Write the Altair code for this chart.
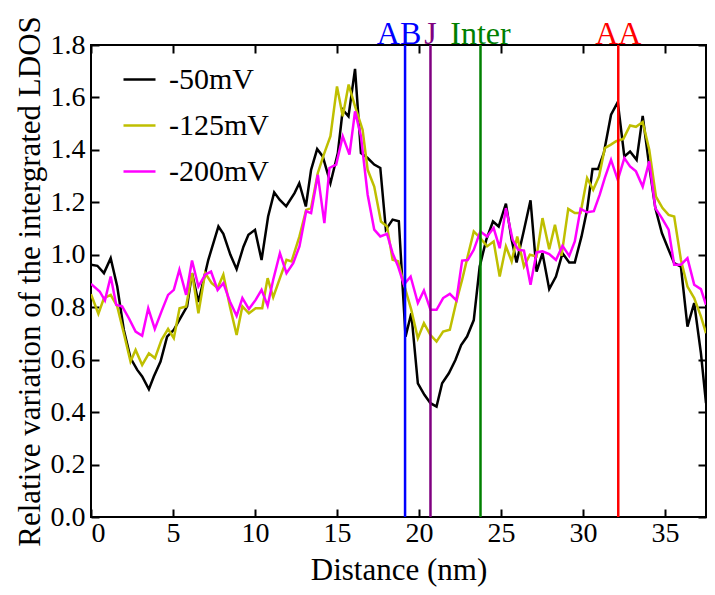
import altair as alt
import pandas as pd

# ---- data ----
x_50 = [0.0, 0.39, 0.79, 1.2, 1.6, 2.0, 2.41, 2.82, 3.12, 3.53, 3.83, 4.24, 4.64, 5.05, 5.45, 5.86,
        6.16, 6.55, 7.15, 7.77, 8.07, 8.5, 8.88, 9.29, 9.6, 10.0, 10.4, 10.8, 11.17, 11.5, 11.9,
        12.41, 12.7, 13.1, 13.42, 13.79, 14.13, 14.6, 15.05, 15.35, 15.7, 16.1, 16.46, 16.87,
        17.27, 17.64, 17.98, 18.39, 18.77, 19.18, 19.53, 19.93, 20.33, 20.7, 21.07, 21.41, 21.82,
        22.22, 22.57, 22.93, 23.34, 23.7, 24.1, 24.51, 24.86, 25.3, 25.65, 25.95, 26.36, 26.8,
        27.17, 27.53, 27.94, 28.35, 28.75, 29.16, 29.5, 29.91, 30.25, 30.58, 30.92, 31.27, 31.71,
        32.12, 32.52, 32.87, 33.27, 33.64, 34.04, 34.41, 34.81, 35.22, 35.56, 35.97, 36.37, 36.78,
        37.19, 37.5]
y_50 = [0.962, 0.958, 0.930, 0.987, 0.879, 0.714, 0.606, 0.561, 0.536, 0.487, 0.536, 0.593, 0.688,
        0.714, 0.758, 0.803, 0.930, 0.82, 0.98, 1.108, 1.08, 1.0, 0.945, 1.03, 1.076, 1.095, 0.98,
        1.146, 1.238, 1.21, 1.185, 1.235, 1.273, 1.184, 1.324, 1.403, 1.375, 1.273, 1.388, 1.553,
        1.528, 1.709, 1.388, 1.369, 1.344, 1.331, 1.096, 1.134, 1.128, 0.688, 0.777, 0.51, 0.466,
        0.434, 0.421, 0.51, 0.548, 0.599, 0.656, 0.688, 0.751, 0.955, 1.057, 1.127, 1.108, 1.195,
        1.057, 0.971, 1.083, 1.208, 0.936, 1.006, 0.869, 0.917, 1.006, 0.971, 0.971, 1.07, 1.172,
        1.327, 1.327, 1.388, 1.534, 1.582, 1.375, 1.394, 1.362, 1.53, 1.337, 1.178, 1.083, 1.019,
        0.968, 0.955, 0.726, 0.816, 0.625, 0.434]

x_125 = [0.0, 0.45, 0.79, 1.2, 1.6, 2.0, 2.41, 2.72, 3.12, 3.53, 3.9, 4.3, 4.7, 5.05, 5.4, 5.8,
         6.16, 6.55, 6.96, 7.36, 7.72, 8.07, 8.47, 8.88, 9.23, 9.63, 10.04, 10.44, 10.77, 11.11,
         11.52, 11.92, 12.23, 12.71, 13.12, 13.42, 13.83, 14.19, 14.6, 15.0, 15.35, 15.71, 16.1,
         16.56, 16.87, 17.27, 17.68, 18.05, 18.39, 18.73, 19.12, 19.53, 19.93, 20.3, 20.7, 21.07,
         21.47, 21.88, 22.28, 22.63, 22.97, 23.34, 23.74, 24.15, 24.55, 24.92, 25.3, 25.65, 25.99,
         26.4, 26.76, 27.17, 27.53, 27.94, 28.29, 28.69, 29.1, 29.5, 29.85, 30.25, 30.62, 30.98,
         31.33, 31.7, 32.02, 32.46, 32.87, 33.23, 33.64, 34.04, 34.45, 34.85, 35.22, 35.56, 35.97,
         36.37, 36.78, 37.19, 37.5]
y_125 = [0.85, 0.775, 0.835, 0.847, 0.803, 0.701, 0.593, 0.637, 0.58, 0.624, 0.606, 0.676, 0.717,
         0.682, 0.796, 0.803, 0.93, 0.777, 0.93, 0.892, 0.873, 0.924, 0.803, 0.694, 0.803, 0.777,
         0.796, 0.796, 0.911, 0.838, 0.911, 0.981, 0.975, 1.07, 1.171, 1.178, 1.312, 1.381, 1.452,
         1.642, 1.528, 1.649, 1.566, 1.477, 1.324, 1.26, 1.127, 1.108, 0.981, 0.975, 0.879, 0.79,
         0.682, 0.739, 0.694, 0.669, 0.707, 0.714, 0.822, 0.905, 0.994, 1.089, 1.064, 1.032, 1.051,
         0.917, 1.032, 0.975, 1.07, 0.955, 1.0, 0.994, 1.14, 1.021, 1.114, 0.996, 1.175, 1.159,
         1.159, 1.293, 1.248, 1.299, 1.407, 1.42, 1.433, 1.442, 1.493, 1.488, 1.506, 1.401, 1.222,
         1.178, 1.152, 1.146, 0.981, 0.879, 0.835, 0.765, 0.701]

x_200 = [0.0, 0.53, 0.85, 1.2, 1.54, 1.9, 2.31, 2.72, 3.12, 3.49, 3.89, 4.3, 4.7, 5.05, 5.39, 5.8,
         6.16, 6.55, 6.96, 7.32, 7.72, 8.07, 8.47, 8.88, 9.23, 9.63, 10.04, 10.4, 10.77, 11.11,
         11.52, 11.92, 12.33, 12.71, 13.12, 13.42, 13.83, 14.23, 14.54, 14.95, 15.35, 15.76, 16.1,
         16.46, 16.87, 17.27, 17.64, 18.05, 18.39, 18.73, 19.08, 19.49, 19.93, 20.3, 20.7, 21.07,
         21.47, 21.88, 22.28, 22.63, 22.97, 23.34, 23.74, 24.15, 24.55, 24.92, 25.3, 25.71, 26.05,
         26.4, 26.8, 27.17, 27.53, 27.94, 28.35, 28.75, 29.16, 29.5, 29.85, 30.25, 30.66, 31.02,
         31.33, 31.71, 32.12, 32.52, 32.87, 33.23, 33.64, 34.04, 34.41, 34.81, 35.22, 35.56, 35.97,
         36.37, 36.78, 37.19, 37.5]
y_200 = [0.889, 0.86, 0.826, 0.917, 0.809, 0.803, 0.758, 0.707, 0.691, 0.796, 0.717, 0.784, 0.847,
         0.866, 0.943, 0.847, 0.978, 0.879, 0.924, 0.936, 0.866, 0.892, 0.822, 0.767, 0.835, 0.793,
         0.828, 0.866, 0.806, 0.905, 1.006, 0.93, 0.968, 1.032, 1.166, 1.159, 1.305, 1.121, 1.331,
         1.344, 1.452, 1.382, 1.547, 1.452, 1.229, 1.096, 1.07, 1.08, 1.006, 0.955, 0.886, 0.917,
         0.816, 0.864, 0.79, 0.79, 0.835, 0.851, 0.826, 0.978, 0.98, 1.019, 1.089, 1.07, 1.102,
         1.025, 1.178, 1.057, 1.019, 1.016, 0.886, 1.009, 1.013, 1.003, 0.98, 1.034, 0.996, 1.051,
         1.175, 1.162, 1.166, 1.229, 1.293, 1.362, 1.286, 1.369, 1.337, 1.318, 1.26, 1.356, 1.178,
         1.14, 1.096, 0.962, 0.962, 0.987, 0.886, 0.869, 0.809]

series_names = ["-50mV", "-125mV", "-200mV"]
series_colors = ["#000000", "#bfbf00", "#ff00ff"]

marker_names = ["AB", "J", "Inter", "AA"]
marker_x = [19.15, 20.7, 23.75, 32.15]
marker_colors = ["#0000ff", "#800080", "#008000", "#ff0000"]

x_ticks = [0, 5, 10, 15, 20, 25, 30, 35]
y_ticks = [0.0, 0.2, 0.4, 0.6, 0.8, 1.0, 1.2, 1.4, 1.6, 1.8]

# ---- build table ----
rows = []
for name, xs, ys in zip(series_names, [x_50, x_125, x_200], [y_50, y_125, y_200]):
    for i, (a, b) in enumerate(zip(xs, ys)):
        rows.append({"series": name, "x": a, "y": b, "order": i})
df = pd.DataFrame(rows)

FONT = "Liberation Serif"
W, H = 615, 472

xscale = alt.Scale(domain=[0, 37.5], nice=False, zero=False)
yscale = alt.Scale(domain=[0, 1.8], nice=False, zero=False)

x_axis = alt.Axis(values=x_ticks, format="d", title="Distance (nm)", ticks=False,
                  grid=True, gridColor="black", gridWidth=2, gridOpacity=1,
                  gridDash=[8, H - 16, 8, 200], domain=False,
                  labelFont=FONT, labelFontSize=28, labelColor="black", labelPadding=2,
                  titleFont=FONT, titleFontSize=31, titleFontWeight="normal", titleColor="black",
                  titleBaseline="alphabetic", titleY=62)
y_axis = alt.Axis(values=y_ticks, format=".1f", title="Relative variation of the intergrated LDOS",
                  ticks=False, grid=True, gridColor="black", gridWidth=2, gridOpacity=1,
                  gridDash=[8, W - 16, 8, 200], domain=False,
                  labelFont=FONT, labelFontSize=28, labelColor="black", labelPadding=6,
                  titleFont=FONT, titleFontSize=31, titleFontWeight="normal", titleColor="black",
                  titleAngle=-90, titleBaseline="alphabetic", titleX=-52, titleY=H / 2,
                  titleAlign="center")

lines = alt.Chart(df).mark_line(strokeWidth=2.5, clip=True).encode(
    x=alt.X("x:Q", scale=xscale, axis=x_axis),
    y=alt.Y("y:Q", scale=yscale, axis=y_axis),
    color=alt.Color("series:N",
                    scale=alt.Scale(domain=series_names, range=series_colors),
                    legend=alt.Legend(orient="none", legendX=31, legendY=17, title=None,
                                      symbolType="stroke", symbolStrokeWidth=2.5,
                                      symbolSize=1024, labelFont=FONT, labelFontSize=30,
                                      labelColor="black", labelOffset=12, rowPadding=13,
                                      padding=0)),
    detail="series:N",
    order="order:Q",
)

layers = [lines]
for name, mx, col in zip(marker_names, marker_x, marker_colors):
    mdf = pd.DataFrame({"x": [mx], "name": [name]})
    rule = alt.Chart(mdf).mark_rule(color=col, strokeWidth=2.5).encode(
        x=alt.X("x:Q", scale=xscale, axis=x_axis))
    txt = alt.Chart(mdf).mark_text(color=col, font=FONT, fontSize=32, baseline="alphabetic",
                                   align="center", dx=-6 if name == "AB" else 0).encode(
        x=alt.X("x:Q", scale=xscale, axis=x_axis),
        y=alt.value(-1),
        text="name:N")
    layers += [rule, txt]

chart = alt.layer(*layers).properties(
    width=W, height=H,
    padding={"left": 83, "top": 37, "right": 1, "bottom": 70},
    autosize=alt.AutoSizeParams(type="none"),
    background="white",
).configure(font=FONT).configure_axis(
    labelFont=FONT, titleFont=FONT
).configure_legend(labelFont=FONT).configure_text(font=FONT).configure_view(
    stroke="black", strokeWidth=2)

chart.save("out.html", embed_options={"renderer": "svg", "actions": False})
